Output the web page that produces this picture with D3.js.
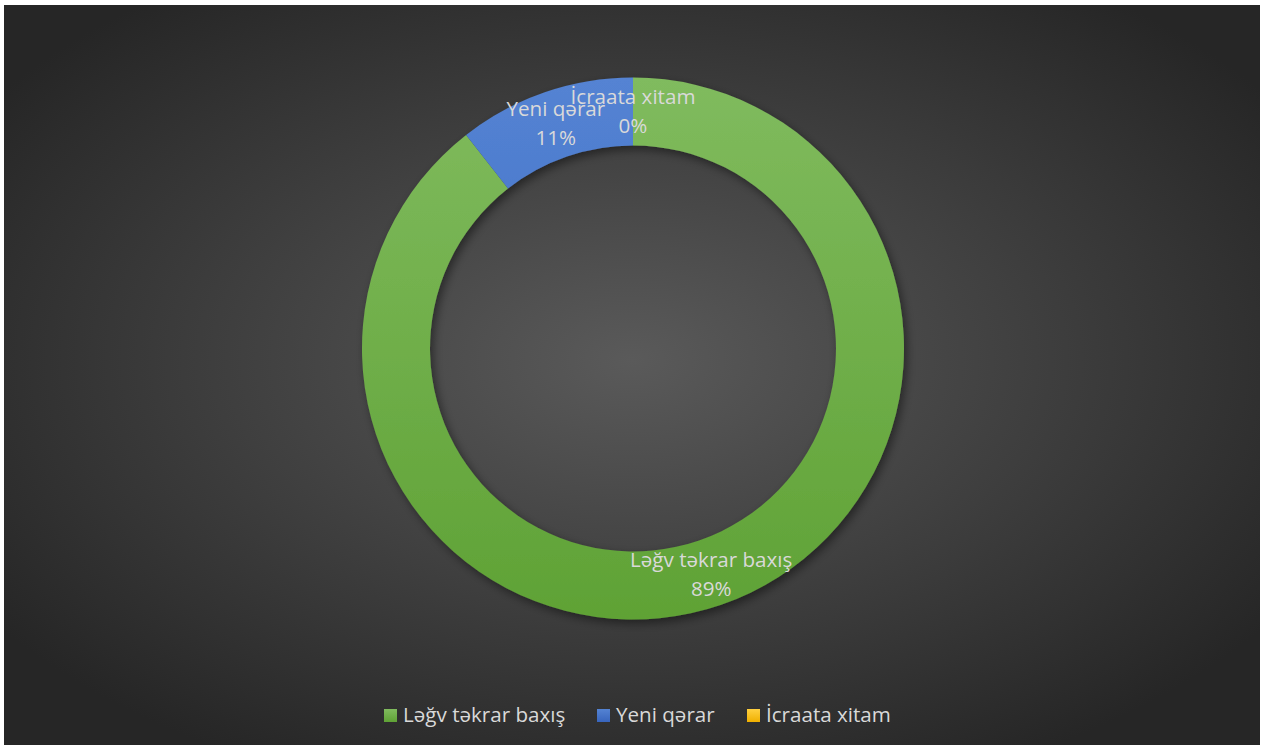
<!DOCTYPE html>
<html><head><meta charset="utf-8">
<script src="https://cdn.jsdelivr.net/npm/d3@7"></script>
<style>html,body{margin:0;padding:0;background:#fff;}svg{display:block;}</style>
</head><body>
<svg id="chart" width="1263" height="748"></svg>
<script>
const categories = ["Ləğv təkrar baxış", "Yeni qərar", "İcraata xitam"];
const values = [144, 17, 0];
const colors = ["#70ad47", "#4472c4", "#ffc000"];
const colorsTop = ["#80bb5e", "#5483d3", "#ffd040"];
const colorsBottom = ["#5fa235", "#3865bd", "#f0b000"];

const W = 1263, H = 748;
const svg = d3.select("#chart");
const defs = svg.append("defs");

// background gradient
const bg = defs.append("radialGradient").attr("id","bg").attr("cx","50%").attr("cy","48%").attr("r","62%");
bg.append("stop").attr("offset","0%").attr("stop-color","#5a5a5a");
bg.append("stop").attr("offset","100%").attr("stop-color","#262626");
svg.append("rect").attr("x",4).attr("y",5).attr("width",1256).attr("height",740).attr("fill","url(#bg)");

const cx = 633, cy = 348.5, R = 271, r = 203;

colors.forEach((c,i)=>{
  const g = defs.append("linearGradient").attr("id","g"+i).attr("gradientUnits","userSpaceOnUse")
    .attr("x1",0).attr("y1",-R).attr("x2",0).attr("y2",R);
  g.append("stop").attr("offset","0%").attr("stop-color",colorsTop[i]);
  g.append("stop").attr("offset","100%").attr("stop-color",colorsBottom[i]);
});

const f = defs.append("filter").attr("id","sh").attr("x","-20%").attr("y","-20%").attr("width","140%").attr("height","140%");
f.append("feDropShadow").attr("dx",3).attr("dy",4).attr("stdDeviation",5).attr("flood-color","#000").attr("flood-opacity",0.45);

const total = d3.sum(values);
const pie = d3.pie().sort(null).value(d=>d)(values);
const arc = d3.arc().innerRadius(r).outerRadius(R);
const labelArc = d3.arc().innerRadius((r+R)/2).outerRadius((r+R)/2);

const g = svg.append("g").attr("transform",`translate(${cx},${cy})`);
g.append("g").attr("filter","url(#sh)").selectAll("path").data(pie).join("path")
  .attr("d",arc).attr("fill",(d,i)=>`url(#g${i})`);

const fontFam = "'Open Sans', sans-serif";
const labelOffsets = [[1,2],[0,0],[0,0]];
const lbl = g.selectAll("text.lbl").data(pie).join("text").attr("class","lbl")
  .attr("transform",(d,i)=>{const c=labelArc.centroid(d);return `translate(${c[0]+labelOffsets[i][0]},${c[1]+labelOffsets[i][1]})`;})
  .attr("text-anchor","middle").attr("fill","#d9d9d9").style("font-family",fontFam).style("font-size","20.6px");
lbl.append("tspan").attr("x",0).attr("y",-8).text((d,i)=>categories[i]);
lbl.append("tspan").attr("x",0).attr("y",21).text(d=>Math.round(d.value/total*100)+"%");

// legend
colors.forEach((c,i)=>{
  const lg = defs.append("linearGradient").attr("id","lg"+i).attr("x1",0).attr("y1",0).attr("x2",0).attr("y2",1);
  lg.append("stop").attr("offset","0%").attr("stop-color",colorsTop[i]);
  lg.append("stop").attr("offset","100%").attr("stop-color",colorsBottom[i]);
});
const legX = [384, 597, 747];
const leg = svg.append("g").selectAll("g").data(categories).join("g")
  .attr("transform",(d,i)=>`translate(${legX[i]},722)`);
leg.append("rect").attr("x",0).attr("y",-13).attr("width",13).attr("height",13).attr("fill",(d,i)=>`url(#lg${i})`);
leg.append("text").attr("x",19).attr("y",0).attr("fill","#d9d9d9").style("font-family",fontFam).style("font-size","20.6px").text(d=>d);
</script>
</body></html>
